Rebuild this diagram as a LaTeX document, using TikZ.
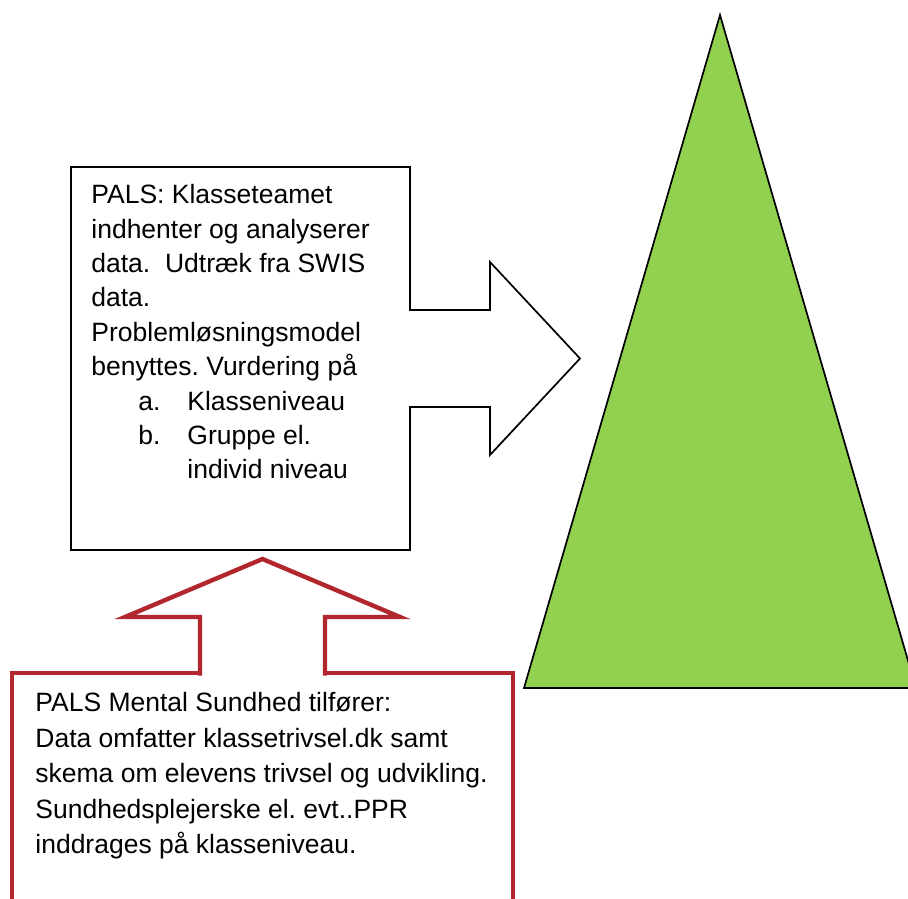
\documentclass[tikz,border=0pt]{standalone}
\usepackage{fontspec}
\setmainfont{Liberation Sans}
\frenchspacing
\usetikzlibrary{positioning}
\usetikzlibrary{calc}
\definecolor{treegreen}{HTML}{92D050}
\definecolor{palsred}{RGB}{178,38,46}
\tikzstyle{panel}=[draw=black,line width=0.85pt,fill=white,inner sep=0pt,outer sep=0pt]
\tikzstyle{redpanel}=[draw=palsred,line width=2.2pt,fill=white,inner sep=0pt,outer sep=0pt]
\tikzstyle{blockarrow}=[draw=black,line width=0.85pt,fill=white,line join=miter]
\tikzstyle{redarrow}=[draw=palsred,line width=2.2pt,fill=white,line join=miter]
\tikzstyle{body}=[font=\fontsize{13.25}{17.2}\selectfont,align=left,anchor=north west,inner sep=0pt]
\tikzstyle{redbody}=[font=\fontsize{13.25}{17.75}\selectfont,align=left,anchor=north west,inner sep=0pt]

\begin{document}
\begin{tikzpicture}[x=0.5pt,y=-0.5pt]

  \useasboundingbox (0,0) rectangle (908,898);
  \clip (0,0) rectangle (908,898);

  % triangle on the right
  \draw[line width=0.85pt, fill=treegreen, line join=miter] (720,15) -- (524,688) -- (916,688) -- cycle;

  % upper box with arrow to the triangle
  \node[panel, anchor=north west, minimum width=169.5pt, minimum height=191.5pt] (pals) at (71,167) {};
  \node[body] (palstext) at (91,184) {PALS: Klasseteamet\\
    indhenter og analyserer\\
    data.\ \ Udtr\ae k fra SWIS\\
    data.\\
    Probleml\o sningsmodel\\
    benyttes. Vurdering p\aa\\
    \hspace*{23.5pt}\makebox[24.5pt][l]{a.}Klasseniveau\\
    \hspace*{23.5pt}\makebox[24.5pt][l]{b.}Gruppe el.\\
    \hspace*{48pt}individ niveau};

  \fill[white] ($(pals.east)+(-1,-48.5)$) rectangle ($(pals.east)+(80,48.5)$);
  \draw[blockarrow] ($(pals.east)+(-1,-48.5)$) -- ($(pals.east)+(80,-48.5)$) -- ($(pals.east)+(80,-96.5)$)
     -- ($(pals.east)+(170,0)$) -- ($(pals.east)+(80,96.5)$) -- ($(pals.east)+(80,48.5)$) -- ($(pals.east)+(-1,48.5)$);

  % lower box with arrow up to the upper box
  \node[redpanel, anchor=north west, minimum width=250.5pt, minimum height=150pt] (mental) at (12,673) {};
  \node[redbody] (mentaltext) at (35,692) {PALS Mental Sundhed tilf\o rer:\\
    Data omfatter klassetrivsel.dk samt\\
    skema om elevens trivsel og udvikling.\\
    Sundhedsplejerske el. evt..PPR\\
    inddrages p\aa{} klasseniveau.};

  \draw[redarrow] ($(mental.north)+(-62.5,2.5)$) -- ($(mental.north)+(-62.5,-56)$) -- ($(mental.north)+(-137.5,-56)$)
     -- ($(mental.north)+(0,-114)$) -- ($(mental.north)+(137.5,-56)$) -- ($(mental.north)+(62.5,-56)$) -- ($(mental.north)+(62.5,2.5)$);

\end{tikzpicture}
\end{document}
